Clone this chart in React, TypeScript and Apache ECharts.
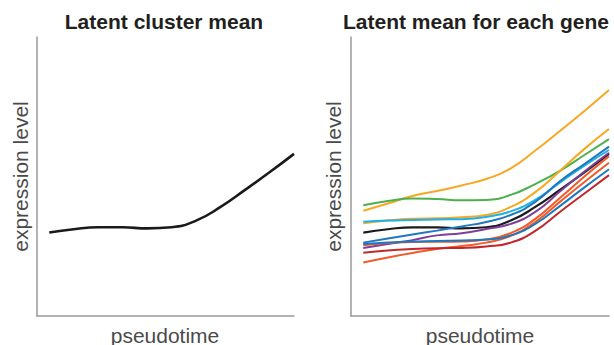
import React, { useEffect, useRef } from "react";
import * as echarts from "echarts";

// pseudotime sample positions
const pseudotime = [0, 0.1, 0.2, 0.3, 0.4, 0.5, 0.6, 0.7, 0.8, 0.9, 1.0];

// latent cluster mean (expression level)
const clusterMean = [29.9, 31.1, 31.8, 31.8, 31.4, 31.8, 34.2, 39.1, 45.2, 51.5, 58.1];

// latent mean for each gene
const geneNames = ["g1", "g2", "g3", "g4", "g5", "g6", "g7", "g8", "g9", "g10"];
const geneValues = [
  [37.7, 40.3, 43.0, 44.8, 46.8, 49.1, 52.9, 59.3, 66.3, 73.5, 81.0],
  [39.7, 41.2, 42.1, 41.9, 41.5, 41.6, 43.4, 47.3, 52.0, 57.7, 63.4],
  [33.2, 34.2, 34.9, 35.0, 35.4, 36.2, 39.1, 44.4, 52.0, 59.9, 67.0],
  [33.8, 34.2, 34.4, 34.6, 34.7, 35.5, 37.5, 41.6, 47.8, 53.9, 59.5],
  [26.3, 27.8, 29.2, 30.6, 32.1, 33.7, 36.2, 40.9, 48.3, 54.5, 60.7],
  [24.4, 25.8, 27.2, 28.9, 29.7, 31.2, 33.0, 37.3, 44.6, 51.8, 58.5],
  [25.4, 26.2, 26.5, 26.6, 26.7, 27.4, 29.7, 34.8, 42.3, 50.0, 57.3],
  [19.2, 21.0, 22.6, 24.0, 25.1, 26.3, 28.7, 33.7, 40.9, 48.0, 54.9],
  [25.8, 26.3, 26.7, 26.9, 27.1, 27.4, 28.9, 33.0, 39.4, 46.1, 52.6],
  [22.7, 23.5, 24.0, 24.3, 24.4, 24.9, 26.3, 30.5, 37.3, 43.9, 50.5],
];
const geneColors = [
  "#F7A823",
  "#4CB14A",
  "#F7A823",
  "#1EB1E6",
  "#1F77C0",
  "#7F3F98",
  "#F15A29",
  "#F15A29",
  "#1F77C0",
  "#C1272D",
];

const titles = ["Latent cluster mean", "Latent mean for each gene"];
const xLabel = "pseudotime";
const yLabel = "expression level";

const FONT = "'Liberation Sans', Arial, Helvetica, sans-serif";

export default function App() {
  const ref = useRef<HTMLDivElement>(null);

  useEffect(() => {
    if (!ref.current) return;
    const chart = echarts.init(ref.current, undefined, { renderer: "svg" });

    const pairs = (vals: number[]) => pseudotime.map((t, i) => [t, vals[i]]);

    const axisLine = { show: true, onZero: false, lineStyle: { color: "#9a9a9a", width: 1.5 } };
    const xAxisBase = {
      type: "value" as const,
      min: -0.05,
      max: 1,
      axisLine,
      axisTick: { show: false },
      axisLabel: { show: false },
      splitLine: { show: false },
    };
    const yAxisBase = {
      type: "value" as const,
      min: 0,
      max: 100,
      axisLine,
      axisTick: { show: false },
      axisLabel: { show: false },
      splitLine: { show: false },
    };

    const SMOOTH = 0.5;

    const series: any[] = [
      {
        type: "line",
        name: "cluster mean",
        xAxisIndex: 0,
        yAxisIndex: 0,
        data: pairs(clusterMean),
        smooth: SMOOTH,
        showSymbol: false,
        lineStyle: { color: "#1a1a1a", width: 2.6 },
      },
      {
        type: "line",
        name: "cluster mean (genes)",
        xAxisIndex: 1,
        yAxisIndex: 1,
        data: pairs(clusterMean),
        smooth: SMOOTH,
        showSymbol: false,
        lineStyle: { color: "#1a1a1a", width: 2.2 },
      },
    ];
    geneValues.forEach((vals, i) => {
      series.push({
        type: "line",
        name: geneNames[i],
        xAxisIndex: 1,
        yAxisIndex: 1,
        data: pairs(vals),
        smooth: SMOOTH,
        showSymbol: false,
        lineStyle: { color: geneColors[i], width: 2 },
      });
    });

    const labelStyle = { fill: "#4a4a4a", font: `21px ${FONT}` };
    const titleStyle = { fill: "#231f20", font: `bold 21px ${FONT}` };

    chart.setOption({
      animation: false,
      grid: [
        { left: 37, top: 37, width: 257, height: 279 },
        { left: 351, top: 37, width: 258, height: 279 },
      ],
      xAxis: [
        { ...xAxisBase, gridIndex: 0 },
        { ...xAxisBase, gridIndex: 1 },
      ],
      yAxis: [
        { ...yAxisBase, gridIndex: 0 },
        { ...yAxisBase, gridIndex: 1 },
      ],
      series,
      graphic: [
        {
          type: "text",
          x: 164,
          y: 21,
          style: { ...titleStyle, text: titles[0], textAlign: "center", textVerticalAlign: "middle" },
        },
        {
          type: "text",
          x: 476,
          y: 21,
          style: { ...titleStyle, text: titles[1], textAlign: "center", textVerticalAlign: "middle" },
        },
        {
          type: "text",
          x: 165,
          y: 335,
          style: { ...labelStyle, text: xLabel, textAlign: "center", textVerticalAlign: "middle" },
        },
        {
          type: "text",
          x: 480,
          y: 335,
          style: { ...labelStyle, text: xLabel, textAlign: "center", textVerticalAlign: "middle" },
        },
        {
          type: "text",
          x: 20,
          y: 176.5,
          rotation: Math.PI / 2,
          style: { ...labelStyle, text: yLabel, textAlign: "center", textVerticalAlign: "middle" },
        },
        {
          type: "text",
          x: 333,
          y: 176.5,
          rotation: Math.PI / 2,
          style: { ...labelStyle, text: yLabel, textAlign: "center", textVerticalAlign: "middle" },
        },
      ],
    });

    return () => chart.dispose();
  }, []);

  return <div ref={ref} style={{ width: 614, height: 345, position: "absolute", left: 0, top: 0 }} />;
}
